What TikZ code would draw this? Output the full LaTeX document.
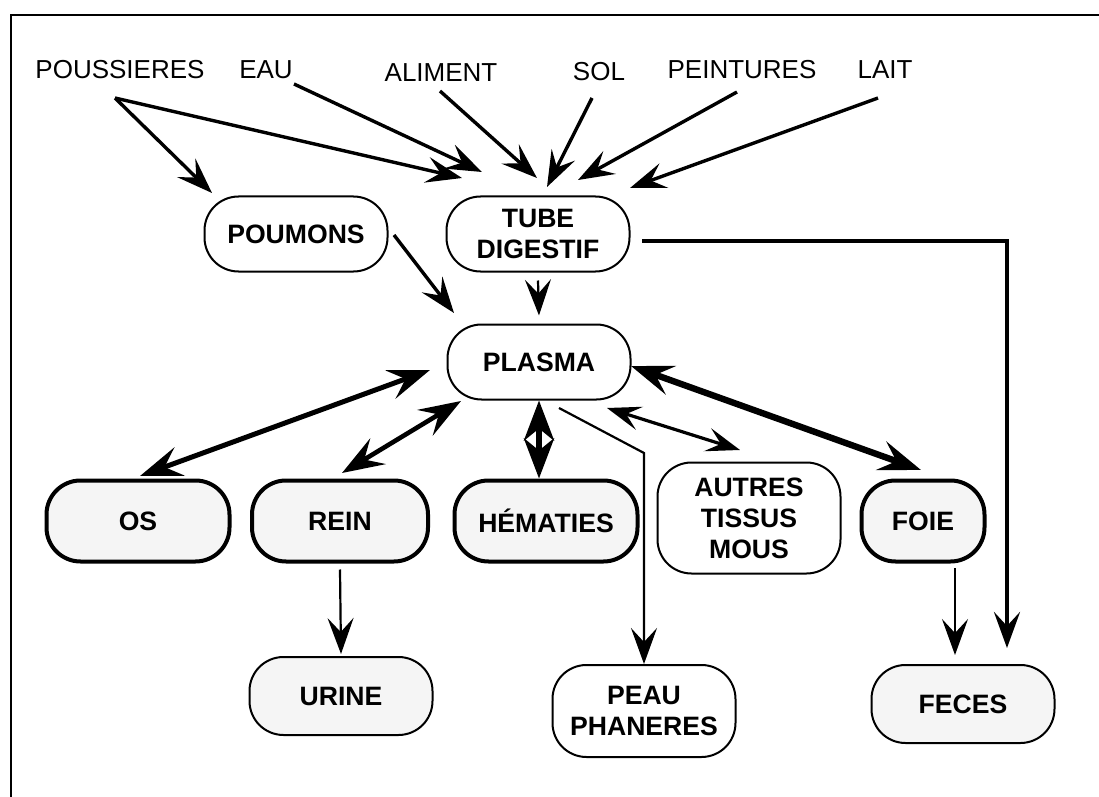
\documentclass[tikz,border=0pt]{standalone}
\usepackage{fontspec}
\setmainfont{Liberation Sans}
\usetikzlibrary{arrows.meta}

\begin{document}
\begin{tikzpicture}[x=0.5pt,y=-0.5pt,
  source/.style={font=\fontsize{13}{16}\selectfont, inner sep=0pt},
  boite/.style={draw, line width=1pt, fill=white, rounded corners=17pt, align=center,
    minimum width=91.5pt, minimum height=37.5pt, font=\bfseries\fontsize{13.3}{15.5}\selectfont},
  organe/.style={boite, line width=2pt, fill=gray!8, minimum height=40.5pt},
  sortie/.style={boite, fill=gray!8},
  fl/.style={-{Stealth[length=18pt,width=13pt,inset=7pt]}, line width=1.7pt},
  fin/.style={fl, line width=1.1pt},
  dfl/.style={{Stealth[length=21pt,width=15pt,inset=8pt]}-{Stealth[length=21pt,width=15pt,inset=8pt]}, line width=2.5pt},
  dfin/.style={{Stealth[length=17pt,width=12pt,inset=7pt]}-{Stealth[length=17pt,width=12pt,inset=7pt]}, line width=1.6pt}
]
\useasboundingbox (0,0) rectangle (1099,797);
% Cadre
\draw[line width=1.1pt] (11,797) -- (11,15) -- (1099,15);

% Sources
\node[source] (poussieres) at (120,70) {POUSSIERES};
\node[source] (eau) at (266,70) {EAU};
\node[source] (aliment) at (441,73) {ALIMENT};
\node[source] (sol) at (599,72) {SOL};
\node[source] (peintures) at (742,70) {PEINTURES};
\node[source] (lait) at (885,70) {LAIT};

% Organes
\node[boite] (poumons) at (296,234) {POUMONS};
\node[boite] (tube) at (538,234) {TUBE\\DIGESTIF};
\node[boite] (plasma) at (539,362) {PLASMA};
\node[organe] (os) at (138,521) {OS};
\node[organe, minimum width=88pt] (rein) at (340,521) {REIN};
\node[organe] (hematies) at (546,521) {HÉMATIES};
\node[boite, minimum height=55.5pt] (autres) at (749,518) {AUTRES\\TISSUS\\MOUS};
\node[organe, minimum width=61.5pt] (foie) at (923,521) {FOIE};
\node[sortie, minimum height=39pt] (urine) at (341,696) {URINE};
\node[boite, minimum height=46pt] (peau) at (644,711) {PEAU\\PHANERES};
\node[sortie, minimum height=39pt] (feces) at (963,704) {FECES};

% Entrees
\draw[fl] ([shift={(-5,28)}]poussieres.center) -- ([shift={(-84,-41)}]poumons.center);
\draw[fl] ([shift={(-5,28)}]poussieres.center) -- ([shift={(-76,-56)}]tube.center);
\draw[fl] ([shift={(28,14)}]eau.center) -- ([shift={(-56,-62)}]tube.center);
\draw[fl] ([shift={(-1,18)}]aliment.center) -- ([shift={(-1,-56)}]tube.center);
\draw[fl] ([shift={(-7,26)}]sol.center) -- ([shift={(9,-47)}]tube.center);
\draw[fl] ([shift={(-5,22)}]peintures.center) -- ([shift={(40,-54)}]tube.center);
\draw[fl] ([shift={(-7,28)}]lait.center) -- ([shift={(92,-46)}]tube.center);

% Vers le plasma
\draw[fl] ([shift={(98,1)}]poumons.center) -- ([shift={(-85,-49)}]plasma.center);
\draw[fin] ([shift={(0,8)}]tube.south) -- ([shift={(0,-8)}]plasma.north);
\draw[fl, line width=2.3pt] ([shift={(104,7)}]tube.center) -| ([shift={(44,-56)}]feces.center);

% Echanges
\draw[dfl] ([shift={(2,-45)}]os.center) -- ([shift={(-109,8)}]plasma.center);
\draw[dfl, line width=2.3pt] ([shift={(2,-48)}]rein.center) -- ([shift={(-78,39)}]plasma.center);
\draw[line width=3pt, shorten <=10pt, shorten >=10pt] (plasma.south) -- (plasma.south |- hematies.north);
\draw[{Stealth[length=20pt,width=15pt,inset=6pt]}-{Stealth[length=20pt,width=15pt,inset=6pt]}, line width=3pt]
  (plasma.south) -- (plasma.south |- hematies.north);
\draw[fin] ([shift={(20,46)}]plasma.center) -- ++(85,45) -- (peau.north);
\draw[dfin] ([shift={(68,46)}]plasma.center) -- ([shift={(-9,-68)}]autres.center);
\draw[dfl, line width=3.2pt] ([shift={(92,4)}]plasma.center) -- ([shift={(-2,-51)}]foie.center);

% Sorties
\draw[fin] ([shift={(0,6)}]rein.south) -- ([shift={(0,-2)}]urine.north);
\draw[fin] ([shift={(32,47)}]foie.center) -- ([shift={(-8,-49)}]feces.center);
\end{tikzpicture}
\end{document}
